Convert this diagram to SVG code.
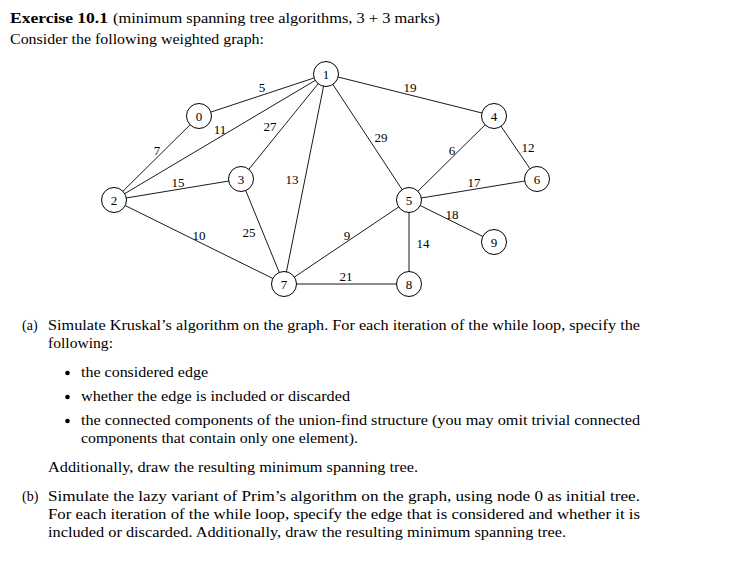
<svg xmlns="http://www.w3.org/2000/svg" width="753" height="580" viewBox="0 0 753 580">
<style>
.t{font-family:"Liberation Serif","Times New Roman",serif;font-size:14px;fill:#000}
.b{font-weight:bold}
.e{stroke:#000;stroke-width:0.9;fill:none}
.n circle{fill:#fff;stroke:#000;stroke-width:1}
.n text,.w{font-family:"Liberation Serif","Times New Roman",serif;font-size:13px;fill:#000;text-anchor:middle}
</style>
<rect width="753" height="580" fill="#fff"/>
<text class="t b" x="10" y="23" textLength="98" lengthAdjust="spacingAndGlyphs">Exercise 10.1</text>
<text class="t" x="113" y="23" textLength="327" lengthAdjust="spacingAndGlyphs">(minimum spanning tree algorithms, 3 + 3 marks)</text>
<text class="t" x="10" y="44" textLength="254" lengthAdjust="spacingAndGlyphs">Consider the following weighted graph:</text>

<g id="edges">
<line class="e" x1="199" y1="116" x2="326" y2="74"/>
<line class="e" x1="199" y1="116" x2="114" y2="200"/>
<line class="e" x1="114" y1="200" x2="326" y2="74"/>
<line class="e" x1="241" y1="179" x2="326" y2="74"/>
<line class="e" x1="114" y1="200" x2="241" y2="179"/>
<line class="e" x1="284" y1="284" x2="326" y2="74"/>
<line class="e" x1="114" y1="200" x2="284" y2="284"/>
<line class="e" x1="241" y1="179" x2="284" y2="284"/>
<line class="e" x1="284" y1="284" x2="409" y2="200"/>
<line class="e" x1="284" y1="284" x2="409" y2="284"/>
<line class="e" x1="326" y1="74" x2="409" y2="200"/>
<line class="e" x1="326" y1="74" x2="494" y2="116"/>
<line class="e" x1="494" y1="116" x2="409" y2="200"/>
<line class="e" x1="494" y1="116" x2="537" y2="179"/>
<line class="e" x1="409" y1="200" x2="537" y2="179"/>
<line class="e" x1="409" y1="200" x2="494" y2="242"/>
<line class="e" x1="409" y1="200" x2="409" y2="284"/>
<text class="w" x="262" y="91.5">5</text>
<text class="w" x="220" y="133.5">11</text>
<text class="w" x="157" y="154.5">7</text>
<text class="w" x="270" y="130.5">27</text>
<text class="w" x="178" y="186.5">15</text>
<text class="w" x="292" y="183.5">13</text>
<text class="w" x="199" y="239.5">10</text>
<text class="w" x="249" y="236.5">25</text>
<text class="w" x="347" y="239.5">9</text>
<text class="w" x="346" y="280.5">21</text>
<text class="w" x="381" y="141.5">29</text>
<text class="w" x="410" y="91.5">19</text>
<text class="w" x="452" y="154.5">6</text>
<text class="w" x="528" y="151.5">12</text>
<text class="w" x="474" y="186.5">17</text>
<text class="w" x="452" y="218.5">18</text>
<text class="w" x="423" y="247.5">14</text>
</g>

<g id="n0" class="n"><circle cx="199" cy="116" r="12.5"/><text x="199" y="120.5">0</text></g>
<g id="n1" class="n"><circle cx="326" cy="74" r="12.5"/><text x="326" y="78.5">1</text></g>
<g id="n2" class="n"><circle cx="114" cy="200" r="12.5"/><text x="114" y="204.5">2</text></g>
<g id="n3" class="n"><circle cx="241" cy="179" r="12.5"/><text x="241" y="183.5">3</text></g>
<g id="n4" class="n"><circle cx="494" cy="116" r="12.5"/><text x="494" y="120.5">4</text></g>
<g id="n5" class="n"><circle cx="409" cy="200" r="12.5"/><text x="409" y="204.5">5</text></g>
<g id="n6" class="n"><circle cx="537" cy="179" r="12.5"/><text x="537" y="183.5">6</text></g>
<g id="n7" class="n"><circle cx="284" cy="284" r="12.5"/><text x="284" y="288.5">7</text></g>
<g id="n8" class="n"><circle cx="409" cy="284" r="12.5"/><text x="409" y="288.5">8</text></g>
<g id="n9" class="n"><circle cx="494" cy="242" r="12.5"/><text x="494" y="246.5">9</text></g>

<text class="t" x="22" y="330">(a)</text>
<text class="t" x="48" y="330" textLength="592" lengthAdjust="spacingAndGlyphs">Simulate Kruskal’s algorithm on the graph. For each iteration of the while loop, specify the</text>
<text class="t" x="48" y="348" textLength="65" lengthAdjust="spacingAndGlyphs">following:</text>
<circle cx="67.5" cy="373" r="2.3"/>
<circle cx="67.5" cy="397" r="2.3"/>
<circle cx="67.5" cy="421" r="2.3"/>
<text class="t" x="81" y="377" textLength="127" lengthAdjust="spacingAndGlyphs">the considered edge</text>
<text class="t" x="81" y="401" textLength="269" lengthAdjust="spacingAndGlyphs">whether the edge is included or discarded</text>
<text class="t" x="81" y="425" textLength="559" lengthAdjust="spacingAndGlyphs">the connected components of the union-find structure (you may omit trivial connected</text>
<text class="t" x="81" y="443" textLength="277" lengthAdjust="spacingAndGlyphs">components that contain only one element).</text>
<text class="t" x="48" y="472" textLength="370" lengthAdjust="spacingAndGlyphs">Additionally, draw the resulting minimum spanning tree.</text>
<text class="t" x="22" y="501">(b)</text>
<text class="t" x="48" y="501" textLength="592" lengthAdjust="spacingAndGlyphs">Simulate the lazy variant of Prim’s algorithm on the graph, using node 0 as initial tree.</text>
<text class="t" x="48" y="519" textLength="592" lengthAdjust="spacingAndGlyphs">For each iteration of the while loop, specify the edge that is considered and whether it is</text>
<text class="t" x="48" y="537" textLength="518" lengthAdjust="spacingAndGlyphs">included or discarded. Additionally, draw the resulting minimum spanning tree.</text>
</svg>
